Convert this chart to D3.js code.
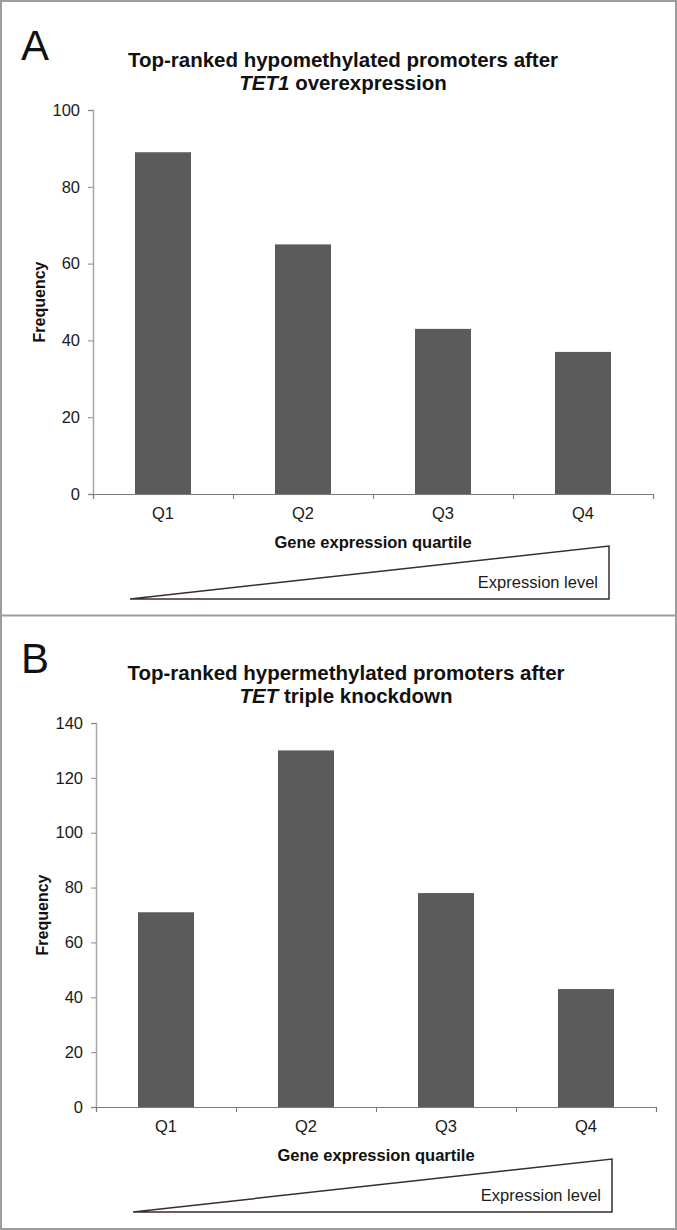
<!DOCTYPE html>
<html>
<head>
<meta charset="utf-8">
<script src="https://cdn.jsdelivr.net/npm/d3@7"></script>
<style>
  html, body { margin: 0; padding: 0; background: #fff; }
  svg { display: block; font-family: "Liberation Sans", Arial, sans-serif; }
</style>
</head>
<body>
<svg id="chart" width="677" height="1230"></svg>
<script>
// ---- data ----
const categories = ["Q1", "Q2", "Q3", "Q4"];
const valuesA = [89, 65, 43, 37];
const valuesB = [71, 130, 78, 43];
const ticksA = [0, 20, 40, 60, 80, 100];
const ticksB = [0, 20, 40, 60, 80, 100, 120, 140];
const panelLetters = ["A", "B"];
const titleLine1 = ["Top-ranked hypomethylated promoters after", "Top-ranked hypermethylated promoters after"];
const titleItalic = ["TET1", "TET"];
const titleRest = [" overexpression", " triple knockdown"];
const yLabel = "Frequency";
const xLabel = "Gene expression quartile";
const triangleLabel = "Expression level";

const svg = d3.select("#chart");
const W = 677, H = 1230;

// outer frame & separator
svg.append("rect").attr("x", 1).attr("y", 1).attr("width", W - 2).attr("height", H - 2)
  .attr("fill", "none").attr("stroke", "#9c9c9c").attr("stroke-width", 2);
svg.append("line").attr("x1", 0).attr("x2", W).attr("y1", 615.5).attr("y2", 615.5)
  .attr("stroke", "#9c9c9c").attr("stroke-width", 2);

function drawPanel(i, values, ticks, oy, x0, titleX) {
  const g = svg.append("g").attr("transform", `translate(0,${oy})`);
  const yTop = 110, yBot = 494, x1 = x0 + 560;

  // letter
  g.append("text").attr("x", 21).attr("y", 60).attr("font-size", 42)
    .attr("fill", "#111").text(panelLetters[i]);

  // title
  const t = g.append("text").attr("text-anchor", "middle").attr("font-size", 20.5)
    .attr("font-weight", "bold").attr("fill", "#111");
  t.append("tspan").attr("x", titleX).attr("y", 67).text(titleLine1[i]);
  const l2 = t.append("tspan").attr("x", titleX).attr("y", 90);
  l2.append("tspan").attr("font-style", "italic").text(titleItalic[i]);
  l2.append("tspan").text(titleRest[i]);

  const y = d3.scaleLinear().domain([0, d3.max(ticks)]).range([yBot, yTop]);
  const x = d3.scaleBand().domain(categories).range([x0, x1])
    .paddingInner(0.6).paddingOuter(0.3);

  // bars
  g.append("g").selectAll("rect").data(values).join("rect")
    .attr("x", (d, k) => x(categories[k]))
    .attr("y", d => y(d))
    .attr("width", x.bandwidth())
    .attr("height", d => y(0) - y(d))
    .attr("fill", "#5a5b5a");

  // y axis
  const ya = g.append("g").attr("transform", `translate(${x0},0)`)
    .call(d3.axisLeft(y).tickValues(ticks).tickSize(5).tickPadding(8));
  ya.attr("font-size", null).attr("font-family", null);
  ya.select(".domain").attr("stroke", "#a8a8a8").attr("stroke-width", 1.5);
  ya.selectAll(".tick line").attr("stroke", "#8a8a8a");
  ya.selectAll(".tick text").style("font-size", "16.5px").attr("fill", "#1a1a1a");

  // x axis: boundary ticks
  const xb = d3.scaleLinear().domain([0, categories.length]).range([x0, x1]);
  const xa = g.append("g").attr("transform", `translate(0,${yBot})`)
    .call(d3.axisBottom(xb).ticks(categories.length).tickSize(5).tickFormat(""));
  xa.select(".domain").attr("stroke", "#7a7a7a").attr("stroke-width", 1.2);
  xa.selectAll(".tick line").attr("stroke", "#7a7a7a");

  // x axis: category labels
  const xl = g.append("g").attr("transform", `translate(0,${yBot})`)
    .call(d3.axisBottom(x).tickSize(0).tickPadding(13));
  xl.attr("font-size", null).attr("font-family", null);
  xl.select(".domain").remove();
  xl.selectAll(".tick text").style("font-size", "16.5px").attr("fill", "#1a1a1a");

  // axis titles
  g.append("text").attr("transform", `translate(${x0 - 48},${(yTop + yBot) / 2}) rotate(-90)`)
    .attr("text-anchor", "middle").attr("font-size", 16).attr("font-weight", "bold")
    .attr("fill", "#111").text(yLabel);
  g.append("text").attr("x", (x0 + x1) / 2).attr("y", 548).attr("text-anchor", "middle")
    .attr("font-size", 16.5).attr("font-weight", "bold").attr("fill", "#111").text(xLabel);

  // expression triangle
  const tx0 = x0 + 37, tx1 = x0 + 516, tyTop = 546, tyBot = 599;
  g.append("path")
    .attr("d", `M${tx0},${tyBot} L${tx1},${tyTop} L${tx1},${tyBot} Z`)
    .attr("fill", "#fff").attr("stroke", "#3b2b2e").attr("stroke-width", 1.5)
    .attr("stroke-linejoin", "miter");
  g.append("text").attr("x", tx1 - 11).attr("y", 588).attr("text-anchor", "end")
    .attr("font-size", 16.5).attr("fill", "#1a1a1a").text(triangleLabel);
}

drawPanel(0, valuesA, ticksA, 0, 93, 343);
drawPanel(1, valuesB, ticksB, 613, 96, 346);
</script>
</body>
</html>
